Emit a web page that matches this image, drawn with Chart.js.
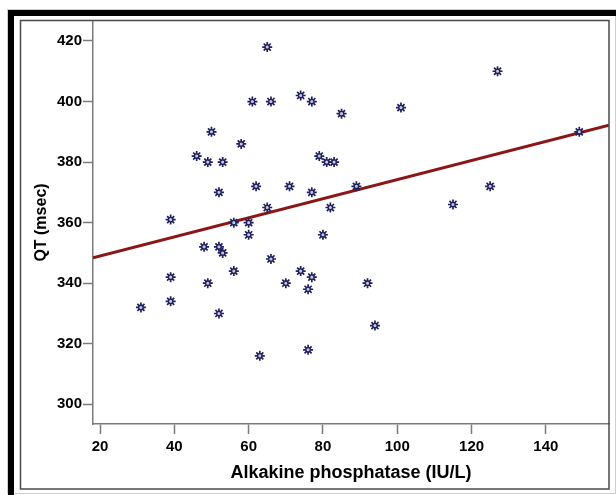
<!DOCTYPE html>
<html>
<head>
<meta charset="utf-8">
<script src="https://cdn.jsdelivr.net/npm/chart.js@4/dist/chart.umd.min.js"></script>
<style>
  html, body { margin: 0; padding: 0; background: #fff; }
  #wrap { position: relative; width: 616px; height: 495px; }
</style>
</head>
<body>
<div id="wrap"><canvas id="qtChart" width="616" height="495"></canvas></div>
<script>
// values
const alkPhos = [65, 61, 66, 74, 77, 50, 58, 46, 49, 53, 79, 81, 83, 52, 62, 71, 77, 89, 65, 82,
                 39, 56, 60, 60, 80, 48, 52, 53, 66, 56, 74, 39, 49, 70, 77, 76, 92, 31, 39, 52,
                 94, 63, 76, 127, 85, 101, 115, 125, 149];
const qtMsec  = [418, 400, 400, 402, 400, 390, 386, 382, 380, 380, 382, 380, 380, 370, 372, 372, 370, 372, 365, 365,
                 361, 360, 360, 356, 356, 352, 352, 350, 348, 344, 344, 342, 340, 340, 342, 338, 340, 332, 334, 330,
                 326, 316, 318, 410, 396, 398, 366, 372, 390];

// fit line, ends read at the plot edges
const fitX = [18.1, 157];
const fitY = [348.4, 392.2];

const xTicks = [20, 40, 60, 80, 100, 120, 140];
const yTicks = [300, 320, 340, 360, 380, 400, 420];

const points = alkPhos.map((x, i) => ({ x: x, y: qtMsec[i] }));
const fitLine = fitX.map((x, i) => ({ x: x, y: fitY[i] }));

const navy = '#1f1f5c';
const axisGray = '#7a7a7a';

// outer frames around the chart
const framePlugin = {
  id: 'frames',
  beforeDraw(chart) {
    const ctx = chart.ctx;
    ctx.save();
    ctx.fillStyle = '#fff';
    ctx.fillRect(0, 0, chart.width, chart.height);
    ctx.strokeStyle = '#cfcfcf';
    ctx.lineWidth = 1;
    ctx.strokeRect(7.5, 9.5, 608, 484);
    ctx.fillStyle = '#000';
    ctx.fillRect(8, 10, 608, 6);
    ctx.fillRect(8, 10, 6, 485);
    ctx.restore();
  },
  afterDraw(chart) {
    const ctx = chart.ctx;
    ctx.save();
    ctx.strokeStyle = '#4a4a4a';
    ctx.lineWidth = 1.5;
    ctx.strokeRect(20.5, 20.5, 588.5, 468.5);
    ctx.restore();
  }
};

const config = {
  type: 'scatter',
  data: {
    datasets: [
      {
        type: 'line',
        data: fitLine,
        borderColor: '#8b1616',
        borderWidth: 3,
        pointRadius: 0,
        fill: false,
        order: 3
      },
      {
        data: points,
        pointStyle: 'star',
        pointRadius: 5,
        borderColor: navy,
        backgroundColor: navy,
        pointBorderWidth: 1.7,
        order: 2
      },
      {
        data: points,
        pointStyle: 'circle',
        pointRadius: 2.2,
        borderColor: navy,
        backgroundColor: '#c9c9dc',
        pointBorderWidth: 1.3,
        order: 1
      }
    ]
  },
  options: {
    responsive: false,
    animation: false,
    layout: { padding: { left: 0, top: 21, right: 7, bottom: 0 } },
    plugins: {
      legend: { display: false },
      tooltip: { enabled: false }
    },
    scales: {
      x: {
        type: 'linear',
        min: 18.1,
        max: 157,
        afterFit: (scale) => { scale.height = 71; },
        afterBuildTicks: (scale) => { scale.ticks = xTicks.map(v => ({ value: v })); },
        grid: { drawOnChartArea: false, drawTicks: true, tickLength: 10, color: axisGray, tickWidth: 1.5 },
        border: { display: true, color: axisGray, width: 1.5 },
        ticks: {
          color: '#000',
          padding: 4,
          maxRotation: 0,
          font: { family: 'Liberation Sans, Arial, sans-serif', size: 15, weight: 'bold' }
        },
        title: {
          display: true,
          text: 'Alkakine phosphatase (IU/L)',
          color: '#000',
          padding: { top: 0, bottom: 11 },
          font: { family: 'Liberation Sans, Arial, sans-serif', size: 18, weight: 'bold' }
        }
      },
      y: {
        type: 'linear',
        min: 293.5,
        max: 426.6,
        afterFit: (scale) => { scale.width = 93; },
        afterBuildTicks: (scale) => { scale.ticks = yTicks.map(v => ({ value: v })); },
        grid: { drawOnChartArea: false, drawTicks: true, tickLength: 10, color: axisGray, tickWidth: 1.5 },
        border: { display: true, color: axisGray, width: 1.5 },
        ticks: {
          color: '#000',
          padding: 1,
          font: { family: 'Liberation Sans, Arial, sans-serif', size: 15, weight: 'bold' }
        },
        title: {
          display: true,
          text: 'QT (msec)',
          color: '#000',
          padding: { top: 32, bottom: 0 },
          font: { family: 'Liberation Sans, Arial, sans-serif', size: 16, weight: 'bold' }
        }
      }
    }
  },
  plugins: [framePlugin]
};

const ctx = document.getElementById('qtChart').getContext('2d');
const qtChart = new Chart(ctx, config);
</script>
</body>
</html>
